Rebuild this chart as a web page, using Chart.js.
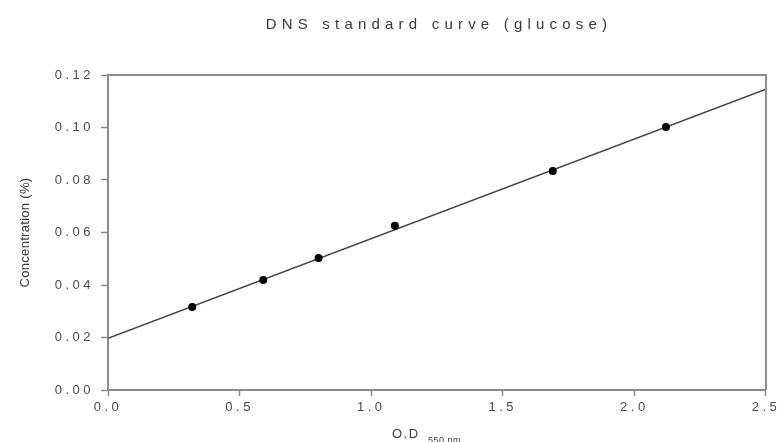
<!DOCTYPE html>
<html>
<head>
<meta charset="utf-8">
<script src="https://cdn.jsdelivr.net/npm/chart.js@4.4.1/dist/chart.umd.min.js"></script>
<style>
  html, body { margin: 0; padding: 0; background: #fff; }
</style>
</head>
<body>
<canvas id="chart" width="779" height="442"></canvas>
<script>
// measured points (O.D 550 nm vs concentration %)
var odValues = [0.32, 0.59, 0.80, 1.09, 1.69, 2.12];
var concValues = [0.0316, 0.0419, 0.0503, 0.0626, 0.0834, 0.1002];

// regression line end points
var fitX = [0, 2.5];
var fitY = [0.0197, 0.1146];

var chartTitle = "DNS standard curve (glucose)";
var yTitle = "Concentration (%)";
var xTitle = "O.D";
var xTitleSub = "550 nm";

var axisColor = '#8c8c8c';
var textColor = '#4a4a4a';

function toPoints(xs, ys) {
    return xs.map(function(x, i) { return { x: x, y: ys[i] }; });
}

var decor = {
    id: 'decor',
    beforeDraw: function(chart) {
        chart.ctx.letterSpacing = '3.5px';
    },
    afterDraw: function(chart) {
        var ctx = chart.ctx;
        var a = chart.chartArea;
        ctx.save();
        // top and right of the frame
        ctx.strokeStyle = axisColor;
        ctx.lineWidth = 2;
        ctx.beginPath();
        ctx.moveTo(a.left, a.top);
        ctx.lineTo(a.right, a.top);
        ctx.lineTo(a.right, a.bottom);
        ctx.stroke();

        ctx.fillStyle = '#3a3a3a';
        ctx.textBaseline = 'alphabetic';

        // title
        ctx.letterSpacing = '5.2px';
        ctx.font = '15px Arial, "Liberation Sans", sans-serif';
        ctx.textAlign = 'center';
        ctx.fillText(chartTitle, (a.left + a.right) / 2 + 2, 29);

        // x title with subscript
        ctx.textAlign = 'left';
        ctx.letterSpacing = '1.5px';
        ctx.font = '13px Arial, "Liberation Sans", sans-serif';
        ctx.fillText(xTitle, 392, 438);
        ctx.letterSpacing = '0.5px';
        ctx.font = '9px Arial, "Liberation Sans", sans-serif';
        ctx.fillText(xTitleSub, 428, 443);

        // y title
        ctx.translate(29, (a.top + a.bottom) / 2);
        ctx.rotate(-Math.PI / 2);
        ctx.textAlign = 'center';
        ctx.letterSpacing = '0.3px';
        ctx.font = '13px Arial, "Liberation Sans", sans-serif';
        ctx.fillText(yTitle, 0, 0);
        ctx.restore();
        ctx.letterSpacing = '0px';
    }
};

var ctx = document.getElementById('chart').getContext('2d');
var stdChart = new Chart(ctx, {
    type: 'scatter',
    data: {
        datasets: [{
            data: toPoints(fitX, fitY),
            showLine: true,
            borderColor: '#444',
            borderWidth: 1.5,
            pointRadius: 0,
            order: 2
        }, {
            data: toPoints(odValues, concValues),
            backgroundColor: '#000',
            borderColor: '#000',
            pointRadius: 4,
            pointBorderWidth: 0,
            order: 1
        }]
    },
    options: {
        responsive: false,
        animation: false,
        devicePixelRatio: 1,
        layout: {
            padding: { left: 0, right: 10, top: 75, bottom: 0 }
        },
        scales: {
            x: {
                type: 'linear',
                min: 0,
                max: 2.5,
                afterFit: function(s) { s.height = 52; },
                border: { display: true, color: axisColor, width: 2 },
                grid: { drawOnChartArea: false, drawTicks: true, tickLength: 6, color: axisColor, tickWidth: 1.5 },
                ticks: {
                    stepSize: 0.5,
                    padding: 4,
                    color: textColor,
                    font: { family: 'Arial, "Liberation Sans", sans-serif', size: 13 },
                    callback: function(v) { return v.toFixed(1); }
                }
            },
            y: {
                type: 'linear',
                min: 0,
                max: 0.12,
                afterFit: function(s) { s.width = 108; },
                border: { display: true, color: axisColor, width: 2 },
                grid: { drawOnChartArea: false, drawTicks: true, tickLength: 7, color: axisColor, tickWidth: 1.5 },
                ticks: {
                    stepSize: 0.02,
                    padding: 7,
                    color: textColor,
                    font: { family: 'Arial, "Liberation Sans", sans-serif', size: 13 },
                    callback: function(v) { return v.toFixed(2); }
                }
            }
        },
        plugins: {
            legend: { display: false },
            tooltip: { enabled: false }
        }
    },
    plugins: [decor]
});
</script>
</body>
</html>
